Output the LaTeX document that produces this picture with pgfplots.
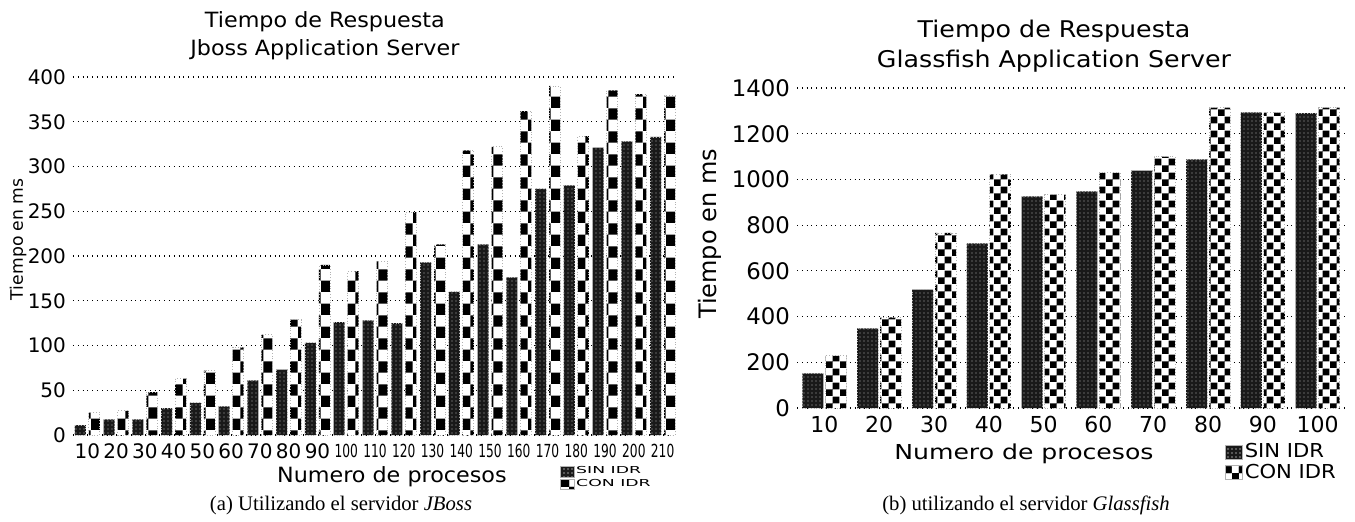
\documentclass[border=0pt]{standalone}
\usepackage{fontspec}
\setmainfont{DejaVu Sans}
\newfontfamily\condfont[FakeStretch=0.68]{DejaVu Sans}
\newfontfamily\wfont[FakeStretch=1.8]{DejaVu Sans}
\newfontfamily\tfontL[FakeStretch=1.06]{DejaVu Sans}
\newfontfamily\tfontR[FakeStretch=1.1]{DejaVu Sans}
\newfontfamily\xfontR[FakeStretch=1.22]{DejaVu Sans}
\newfontfamily\capfont{Liberation Serif}
\usepackage{pgfplots}
\pgfplotsset{compat=1.18}
\usetikzlibrary{patterns}
\pgfdeclarepatternformonly{fdots}{\pgfqpoint{-1pt}{-1pt}}{\pgfqpoint{1pt}{1pt}}{\pgfqpoint{2pt}{2pt}}{\pgfpathcircle{\pgfpointorigin}{0.35pt}\pgfusepath{fill}}
\pgfdeclarepatternformonly{bigcheck}{\pgfpointorigin}{\pgfqpoint{7pt}{7pt}}{\pgfqpoint{7pt}{7pt}}{\pgfpathrectangle{\pgfpointorigin}{\pgfqpoint{3.6pt}{3.6pt}}\pgfpathrectangle{\pgfqpoint{3.5pt}{3.5pt}}{\pgfqpoint{3.6pt}{3.6pt}}\pgfusepath{fill}}
\newcommand{\cf}[1]{{\condfont\fontsize{9}{10}\selectfont #1}}
\tikzset{
  sinbar/.style={fill=black!90, draw=gray!60, densely dotted, postaction={pattern=fdots, pattern color=gray!60}},
  conL/.style={fill=white, draw=gray!60, densely dotted, postaction={pattern=checkerboard, pattern color=black}},
  conR/.style={fill=white, draw=gray!60, densely dotted, postaction={pattern=bigcheck, pattern color=black}},
}
\pgfplotsset{
  common/.style={
    scale only axis,
    ybar,
    ymin=0,
    enlarge y limits=false,
    axis line style={draw=none},
    tick style={draw=none},
    major tick length=0pt,
    ymajorgrids,
    grid style={dotted, black, line width=0.6pt},
    xtick=data,
    scaled y ticks=false,
    /pgf/number format/assume math mode=true,
    /pgf/number format/1000 sep={},
    legend cell align=left,
  }
}
\pgfplotstableread{
x sin con
1 11 25
2 17.5 27
3 17.5 48
4 30 63
5 36 72
6 32 98
7 61 112
8 73 129
9 103 190
10 126 183
11 128 194
12 125 249
13 193 213
14 160 318
15 213 322
16 176 362
17 275 390
18 279 334
19 321 385
20 328 381
21 333 379
}\jboss
\pgfplotstableread{
x sin con
1 152 228
2 348 396
3 518 766
4 720 1022
5 926 934
6 948 1030
7 1038 1100
8 1088 1314
9 1293 1292
10 1290 1314
}\glass
\begin{document}
\begin{tikzpicture}
\path[use as bounding box] (0,0) rectangle (677.5pt,260.5pt);
% ---------- left ----------
\begin{axis}[common,
  at={(36.5pt,43pt)}, anchor=south west,
  width=302pt, height=179pt,
  ymax=400, ytick={0,50,...,400},
  xmin=0.5, xmax=21.5,
  bar width=5.5pt, ybar=1.5pt,
  xticklabels={10,20,30,40,50,60,70,80,90,\cf{100},\cf{110},\cf{120},\cf{130},\cf{140},\cf{150},\cf{160},\cf{170},\cf{180},\cf{190},\cf{200},\cf{210}},
  xticklabel style={font=\fontsize{10}{11}\selectfont, yshift=-1pt},
  yticklabel style={font=\fontsize{10}{11}\selectfont},
  title={Tiempo de Respuesta\\Jboss Application Server},
  title style={at={(0.417,1.15)}, anchor=north, align=center, inner sep=0pt, font=\tfontL\fontsize{10.5}{14}\selectfont},
  xlabel={Numero de procesos},
  xlabel style={at={(0.528,-0.134)}, anchor=base, inner sep=0pt, font=\tfontL\fontsize{10.5}{12}\selectfont},
  ylabel={Tiempo en ms},
  ylabel style={at={(-0.091,0.547)}, anchor=center, inner sep=0pt, font=\fontsize{8.6}{9}\selectfont},
  legend style={at={(0.806,-0.084)}, anchor=north west, draw=none, fill=none, inner sep=0pt, row sep=0pt,
    font=\wfont\fontsize{4.8}{5.5}\selectfont, nodes={inner sep=0.6pt}},
]
\addplot[sinbar, legend image code/.code={\draw[sinbar, solid] (0pt,-2.6pt) rectangle (7pt,2.6pt);}] table[x=x,y=sin] {\jboss};
\addplot[conL, legend image code/.code={\draw[conL, solid] (0pt,-2.6pt) rectangle (7pt,2.6pt);}] table[x=x,y=con] {\jboss};
\legend{SIN IDR, CON IDR}
\end{axis}
% ---------- right ----------
\begin{axis}[common,
  at={(398.5pt,56.5pt)}, anchor=south west,
  width=274pt, height=160pt,
  ymax=1400, ytick={0,200,...,1400},
  xmin=0.5, xmax=10.5,
  bar width=10.5pt, ybar=1pt,
  xticklabels={10,20,30,40,50,60,70,80,90,100},
  xticklabel style={font=\fontsize{11}{12}\selectfont, yshift=-0.5pt},
  yticklabel style={font=\fontsize{11.4}{12}\selectfont},
  title={Tiempo de Respuesta\\Glassfish Application Server},
  title style={at={(0.469,1.1765)}, anchor=north, align=center, inner sep=0pt, font=\tfontR\fontsize{11.5}{15}\selectfont},
  xlabel={Numero de procesos},
  xlabel style={at={(0.414,-0.16)}, anchor=base, inner sep=0pt, font=\xfontR\fontsize{10.3}{12}\selectfont},
  ylabel={Tiempo en ms},
  ylabel style={at={(-0.159,0.544)}, anchor=center, inner sep=0pt, font=\fontsize{12}{13}\selectfont},
  legend style={at={(0.781,-0.105)}, anchor=north west, draw=none, fill=none, inner sep=0pt, row sep=0pt,
    font=\tfontR\fontsize{9.6}{10.5}\selectfont, nodes={inner sep=0.8pt}},
]
\addplot[sinbar, legend image code/.code={\draw[sinbar, solid] (0pt,-3.5pt) rectangle (8.5pt,3.5pt);}] table[x=x,y=sin] {\glass};
\addplot[conR, legend image code/.code={\draw[conR, solid] (0pt,-3.5pt) rectangle (8.5pt,3.5pt);}] table[x=x,y=con] {\glass};
\legend{SIN IDR, CON IDR}
\end{axis}
% ---------- captions ----------
\node[anchor=base, inner sep=0pt, font=\capfont\fontsize{10.35}{12}\selectfont] at (170.5pt,5.5pt) {(a) Utilizando el servidor \textit{JBoss}};
\node[anchor=base, inner sep=0pt, font=\capfont\fontsize{10.35}{12}\selectfont] at (513pt,5.5pt) {(b) utilizando el servidor \textit{Glassfish}};
\end{tikzpicture}
\end{document}
